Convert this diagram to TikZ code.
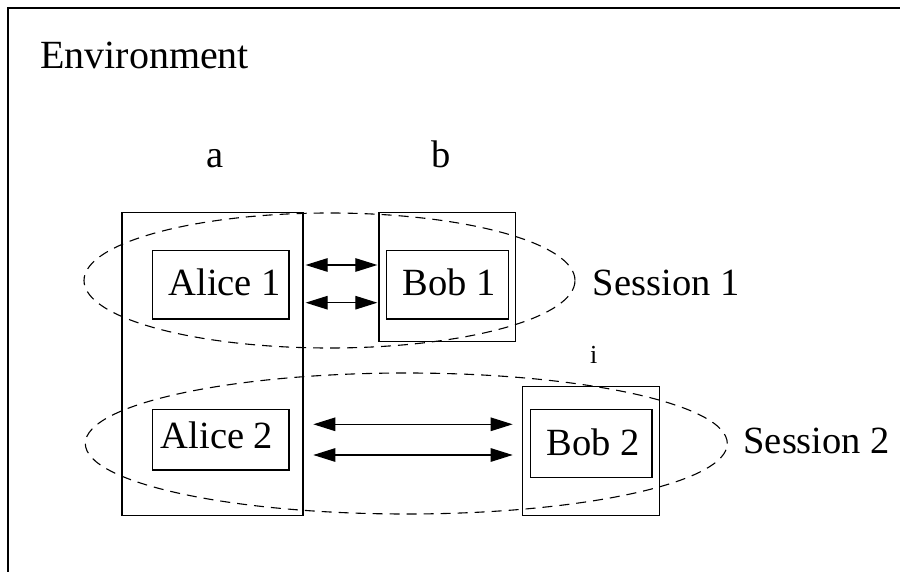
\documentclass[tikz,border=0pt]{standalone}
\usepackage{fontspec}
\setmainfont{Liberation Serif}
\usetikzlibrary{arrows.meta,shapes.geometric}
\tikzset{
  frame/.style={draw, line width=1.2pt, rectangle, inner sep=0pt},
  sess/.style={draw, dashed, dash pattern=on 10pt off 7pt, line width=1.1pt, ellipse, inner sep=0pt},
  lbl/.style={anchor=base west, inner sep=0pt, font=\fontsize{38.5}{40}\selectfont},
  dbl/.style={line width=1.2pt, {Triangle[length=22pt,width=13.5pt]}-{Triangle[length=22pt,width=13.5pt]}}
}
\begin{document}
\begin{tikzpicture}[x=1pt,y=-1pt]
\useasboundingbox (0,0) rectangle (900,572);
\draw[line width=1.2pt] (8,580) -- (8,8) -- (910,8);
\node[lbl, font=\fontsize{40}{42}\selectfont] (env) at (40,68.3) {Environment};
\node[lbl] (la) at (206.7,167.7) {a};
\node[lbl] (lb) at (431.7,167.7) {b};
\node[lbl, font=\fontsize{26}{28}\selectfont] (li) at (590,363) {i};
% outer boxes
\node[frame, minimum width=181pt, minimum height=302.8pt] (boxa) at (212.5,364) {};
\node[frame, minimum width=136.7pt, minimum height=129pt] (boxb) at (447.3,277.2) {};
\node[frame, minimum width=136.6pt, minimum height=128.6pt] (boxi) at (591,451) {};
% inner boxes
\node[frame, minimum width=136.7pt, minimum height=68.3pt] (alice1) at (220.7,284.8) {};
\node[frame, minimum width=121.6pt, minimum height=68.3pt] (bob1) at (447.5,284.8) {};
\node[frame, minimum width=136.7pt, minimum height=60.7pt] (alice2) at (220.7,439.7) {};
\node[frame, minimum width=121.7pt, minimum height=68.4pt] (bob2) at (591.2,443.5) {};
\node[lbl] (talice1) at (168.3,295) {Alice 1};
\node[lbl] (tbob1) at (402.7,295.7) {Bob 1};
\node[lbl] (talice2) at (160.7,448.3) {Alice 2};
\node[lbl] (tbob2) at (546.7,455) {Bob 2};
% sessions
\node[sess, minimum width=491pt, minimum height=135pt] (s1) at (329.5,280.5) {};
\node[sess, minimum width=642pt, minimum height=141pt] (s2) at (406.3,443.5) {};
\node[lbl] (ts1) at (592.7,295) {Session 1};
\node[lbl] (ts2) at (743.3,453.3) {Session 2};
% arrows
\draw[dbl] ([xshift=2pt]boxa.east |- 0,265) -- ([xshift=-1pt]boxb.west |- 0,265);
\draw[dbl] ([xshift=2pt]boxa.east |- 0,302.7) -- ([xshift=-1pt]boxb.west |- 0,302.7);
\draw[dbl] ([xshift=9.7pt]boxa.east |- 0,424.3) -- ([xshift=-9.4pt]boxi.west |- 0,424.3);
\draw[dbl] ([xshift=9.7pt]boxa.east |- 0,455) -- ([xshift=-9.4pt]boxi.west |- 0,455);
\end{tikzpicture}
\end{document}
